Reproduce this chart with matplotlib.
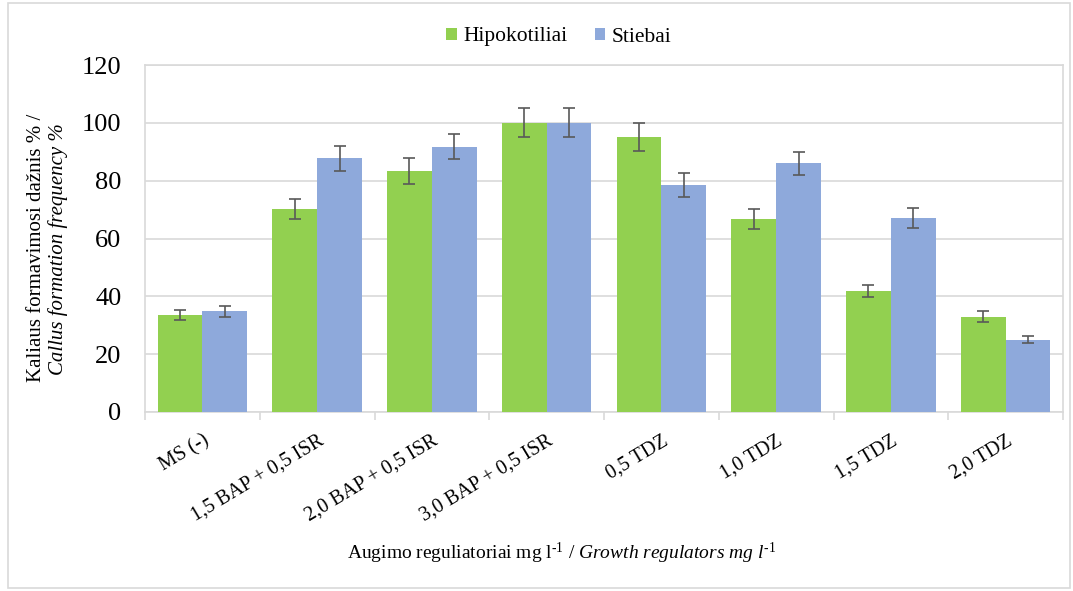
import matplotlib
matplotlib.use("Agg")
import matplotlib.pyplot as plt
from matplotlib.patches import Rectangle
import numpy as np

categories = ["MS (-)", "1,5 BAP + 0,5 ISR", "2,0 BAP + 0,5 ISR", "3,0 BAP + 0,5 ISR",
              "0,5 TDZ", "1,0 TDZ", "1,5 TDZ", "2,0 TDZ"]
hipokotiliai = [33.5, 70.2, 83.3, 100.0, 95.0, 66.7, 41.8, 33.0]
hipokotiliai_err = [1.7, 3.5, 4.5, 5.0, 4.8, 3.5, 2.0, 1.8]
stiebai = [34.8, 87.8, 91.8, 100.0, 78.5, 86.0, 67.0, 25.0]
stiebai_err = [2.0, 4.3, 4.3, 5.0, 4.0, 4.0, 3.5, 1.3]
yticks = [0, 20, 40, 60, 80, 100, 120]

plt.rcParams["font.family"] = ["Liberation Serif", "DejaVu Serif"]
plt.rcParams["mathtext.fontset"] = "custom"
plt.rcParams["mathtext.rm"] = "Liberation Serif"
plt.rcParams["mathtext.it"] = "Liberation Serif:italic"

green = "#92D050"
blue = "#8EA9DB"
grid_c = "#D9D9D9"
err_c = "#595959"

fig = plt.figure(figsize=(10.73, 5.91), dpi=100)
ax = fig.add_axes([145/1073, 1-412/591, (1063-145)/1073, (412-65)/591])

x = np.arange(len(categories))
w = 0.39
ax.bar(x - w/2, hipokotiliai, w, color=green, label="Hipokotiliai", zorder=3)
ax.bar(x + w/2, stiebai, w, color=blue, label="Stiebai", zorder=3)
ek = dict(fmt="none", ecolor=err_c, elinewidth=1.2, capsize=4, capthick=1.2, zorder=4)
ax.errorbar(x - w/2, hipokotiliai, yerr=hipokotiliai_err, **ek)
ax.errorbar(x + w/2, stiebai, yerr=stiebai_err, **ek)

ax.set_xlim(-0.5, len(categories) - 0.5)
ax.set_ylim(0, 120)
ax.set_yticks(yticks)
ax.set_yticklabels([str(v) for v in yticks], fontsize=19)
ax.tick_params(axis="y", length=0, pad=17)
ax.yaxis.grid(True, color=grid_c, linewidth=1.2, zorder=0)
ax.set_axisbelow(True)

ax.set_xticks(x)
ax.set_xticklabels(categories, rotation=31, ha="right", va="top",
                   rotation_mode="anchor", fontsize=14.5)
ax.tick_params(axis="x", length=0, pad=14)
ax.set_xticks(np.arange(len(categories) + 1) - 0.5, minor=True)
ax.tick_params(axis="x", which="minor", length=6, color=grid_c, width=1.2)

for s in ax.spines.values():
    s.set_color(grid_c)
    s.set_linewidth(1.2)

leg = fig.legend(loc="center", bbox_to_anchor=(559/1073, 1-37/591), ncol=2,
                 frameon=False, fontsize=15.5, handlelength=0.5, handleheight=0.5,
                 handletextpad=0.3, columnspacing=1.25)

fig.text(562/1073, 1-553/591,
         "Augimo reguliatoriai mg l$^{\\mathrm{\u20101}}$ / "
         "$\\it{Growth\\ regulators\\ mg\\ l^{\u20101}}$",
         ha="center", va="center", fontsize=14)
fig.text(37/1073, 1-248/591, "Kaliaus formavimosi dažnis % /", rotation=90,
         ha="center", va="center", fontsize=15)
fig.text(58/1073, 1-249/591, "Callus formation frequency %", rotation=90,
         ha="center", va="center", fontsize=15, style="italic")

fig.patches.append(Rectangle((8/1073, 3/591), 1062/1073, 585/591,
                             transform=fig.transFigure, fill=False,
                             edgecolor=grid_c, linewidth=1.2))

fig.savefig("out.png", dpi=100)
